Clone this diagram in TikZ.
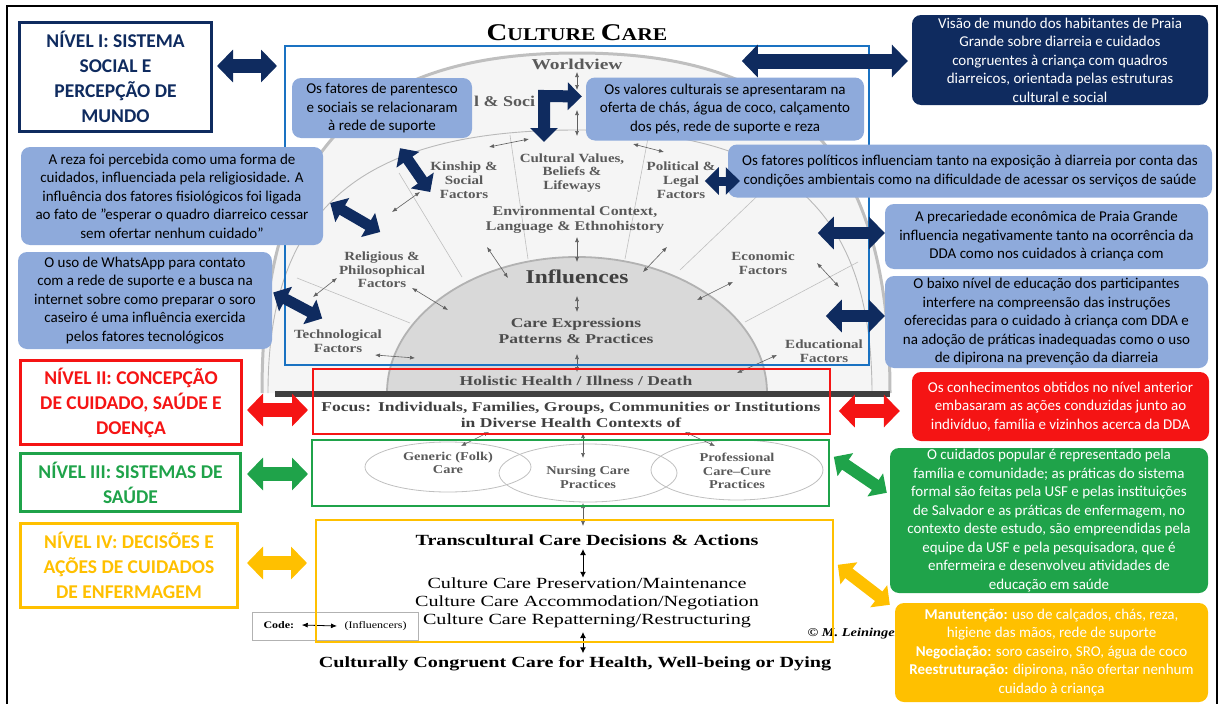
\documentclass[tikz,border=0pt]{standalone}
\usepackage{fontspec}
\setmainfont{Carlito}
\newfontfamily\sunfont[FakeStretch=1.2]{Liberation Serif}
\newfontfamily\sunwide[FakeStretch=1.3]{Liberation Serif}
\usetikzlibrary{arrows.meta}

\definecolor{navy}{HTML}{0F2B5F}
\definecolor{noteblue}{HTML}{8EAADB}
\definecolor{lvred}{HTML}{F51414}
\definecolor{lvgreen}{HTML}{1FA34A}
\definecolor{lvgold}{HTML}{FFC000}
\definecolor{frblue}{HTML}{1A72C2}
\definecolor{sungray}{HTML}{5A5A5A}

\newcommand{\lvfnt}{\fontsize{19.5}{25}\selectfont\bfseries}
\newcommand{\nfnt}{\fontsize{15}{18.5}\selectfont}
\newcommand{\sunsz}[2]{\sunfont\bfseries\fontsize{#1}{#2}\selectfont}
\newcommand{\sunwd}[2]{\sunwide\bfseries\fontsize{#1}{#2}\selectfont}

\tikzset{
  lvbox/.style={draw=#1, text=#1, line width=3pt, fill=white, align=center, font=\lvfnt, inner sep=0pt},
  note/.style={fill=noteblue, rounded corners=9pt, align=center, font=\nfnt, inner sep=0pt},
  fac/.style={text=sungray, align=center, inner sep=0pt},
  infl/.style={draw=gray!75!black, line width=0.6pt, {Latex[length=5pt,width=4pt]}-{Latex[length=5pt,width=4pt]}},
  inflk/.style={draw=black, line width=1pt, {Latex[length=6pt,width=6pt]}-{Latex[length=6pt,width=6pt]}},
  blk/.style={draw=#1, line width=14pt, {Triangle[length=16pt,width=32pt]}-{Triangle[length=16pt,width=32pt]}},
  blks/.style={draw=#1, line width=11pt, {Triangle[length=14pt,width=27pt]}-{Triangle[length=14pt,width=27pt]}},
  radial/.style={draw=gray!50, line width=0.6pt},
}

\begin{document}
\begin{tikzpicture}[x=1pt,y=-1pt]
\useasboundingbox (0,0) rectangle (1219,704);
\draw[line width=1.5pt] (7,704) -- (7,6) -- (1217,6) -- (1217,704);   %outer frame

% sunrise
\fill[gray!8] (262,393) .. controls (262,155) and (356,53) .. (577,53) .. controls (796,53) and (890,155) .. (890,393) -- cycle;
\draw[gray!50, line width=3pt] (262,393) .. controls (262,155) and (356,53) .. (577,53) .. controls (796,53) and (890,155) .. (890,393);   %outer arc
\draw[gray!55, line width=0.9pt] (268,393) .. controls (268,209) and (360,130) .. (577,130) .. controls (783,130) and (872,209) .. (872,393);   %ring
\fill[gray!30] (387,393) .. controls (387,318) and (472,257) .. (577,257) .. controls (682,257) and (767,318) .. (767,393) -- cycle;
\draw[gray!60, line width=1.8pt] (387,393) .. controls (387,318) and (472,257) .. (577,257) .. controls (682,257) and (767,318) .. (767,393);   %inner half
\draw[radial] (297,278) -- (410,323);
\draw[radial] (399,173) -- (462,277);
\draw[radial] (510,135) -- (528,259);
\draw[radial] (648,138) -- (625,259);
\draw[radial] (772,182) -- (680,270);
\draw[radial] (858,262) -- (745,322);
\fill[black!75] (275,391) rectangle (890,397);   %base

\node[font=\sunsz{18}{20}] (tit) at (577,33) {{\fontsize{24}{24}\selectfont C}ULTURE {\fontsize{24}{24}\selectfont C}ARE};
\node[fac, font=\sunwd{15}{16}] (wv) at (577,64) {Worldview};
\node[fac, anchor=west, font=\sunsz{15}{16}] (css) at (474,101) {l \& Soci};   %rest hidden by the notes
\node[fac, font=\sunsz{12.5}{14}] (kin) at (464,180) {Kinship \&\\Social\\Factors};
\node[fac, font=\sunsz{12.5}{13.5}] (cvb) at (572,173) {Cultural Values,\\Beliefs \&\\Lifeways};
\node[fac, font=\sunsz{12.5}{14}] (pol) at (681,180) {Political \&\\Legal\\Factors};
\node[fac, font=\sunsz{13.3}{15}] (env) at (575,220) {Environmental Context,\\Language \& Ethnohistory};
\node[fac, font=\sunsz{12.5}{13.5}] (rel) at (382,270) {Religious \&\\Philosophical\\Factors};
\node[fac, font=\sunsz{12.5}{14.5}] (tec) at (338,341) {Technological\\Factors};
\node[fac, font=\sunsz{12.5}{13.5}] (eco) at (763,263) {Economic\\Factors};
\node[fac, font=\sunsz{12.5}{14}] (edu) at (824,351) {Educational\\Factors};
\node[fac, text=black!75, font=\sunsz{19.5}{20}] (inf) at (577,277) {Influences};
\node[fac, text=black!70, font=\sunwd{13.5}{16}] (cep) at (576,331) {Care Expressions\\Patterns \& Practices};
\node[fac, text=black!70, font=\sunwd{13.5}{15}] (hol) at (576,381) {Holistic Health / Illness / Death};

% influencers
\draw[infl] (577,72) -- (577,90);
\draw[infl] (577,110) -- (577,136);
\draw[infl] (489,147) -- (529,139);
\draw[infl] (633,144) -- (664,152);
\draw[infl] (392,212) -- (420,192);
\draw[infl] (313,297) -- (337,278);
\draw[infl] (412,288) -- (448,310);
\draw[infl] (375,355) -- (415,358);
\draw[infl] (487,247) -- (508,278);
\draw[infl] (577,237) -- (577,262);
\draw[infl] (643,272) -- (667,247);
\draw[infl] (577,296) -- (577,312);
\draw[infl] (697,300) -- (733,282);
\draw[infl] (817,263) -- (839,287);
\draw[infl] (737,373) -- (777,355);
\draw[infl] (577,354) -- (577,372);

% lower part
\node[fac, text=black!75, font=\sunwd{13.5}{16}] (foc) at (571,415) {Focus:\hspace{7pt}Individuals, Families, Groups, Communities or Institutions\\in Diverse Health Contexts of};
\draw[gray!50, line width=0.8pt] (448,467) ellipse [x radius=83, y radius=25];
\draw[gray!50, line width=0.8pt] (588,473) ellipse [x radius=89, y radius=29];
\draw[gray!50, line width=0.8pt] (737,470) ellipse [x radius=86, y radius=30];
\node[fac, font=\sunsz{12}{13}] (gen) at (448,463) {Generic (Folk)\\Care};
\node[fac, font=\sunsz{12}{14}] (nur) at (588,477) {Nursing Care\\Practices};
\node[fac, font=\sunsz{12}{13.5}] (pro) at (737,471) {Professional\\Care–Cure\\Practices};
\draw[infl] (489,432) -- (461,446);
\draw[infl] (583,433) -- (583,458);
\draw[infl] (685,432) -- (715,446);
\draw[infl] (583,503) -- (583,526);
\node[font=\sunwd{15.5}{17}] (tcd) at (587,540) {Transcultural Care Decisions \& Actions};
\node[font=\sunwide\fontsize{15.5}{18}\selectfont, align=center, inner sep=0pt] (ccp) at (587,603) {Culture Care Preservation/Maintenance\\Culture Care Accommodation/Negotiation\\Culture Care Repatterning/Restructuring};
\node[font=\sunwd{15.5}{18}] (ccg) at (575,664) {Culturally Congruent Care for Health, Well-being or Dying};
\node[anchor=west, font=\sunfont\bfseries\itshape\fontsize{12}{12}\selectfont] (lei) at (804,634) {© M. Leininger};
\draw[inflk] (tcd.south -| 583,0) -- (ccp.north -| 583,0);
\draw[inflk] (583,632) -- (ccg.north -| 583,0);

% code legend
\node[draw=gray!60, line width=0.8pt, minimum width=166, minimum height=28, inner sep=0pt] (code) at (335,626) {};
\node[font=\sunsz{10}{11}, anchor=west] (codek) at (260,625) {Code:};
\node[font=\sunfont\fontsize{10}{11}\selectfont, anchor=west] (codei) at (341,626) {(Influencers)};
\draw[black, line width=0.8pt, {Latex[length=6pt,width=5pt]}-{Latex[length=6pt,width=5pt]}] ([xshift=4pt]codek.east) -- ([xshift=-4pt]codei.west);

% level frames
\draw[frblue, line width=1.6pt] (285,46) rectangle (869,365);
\draw[lvred, line width=1.6pt] (313,369) rectangle (830,434);
\draw[lvgreen, line width=1.6pt] (312,440) rectangle (829,506);
\draw[lvgold, line width=1.6pt] (316,520) rectangle (833,642);

% level boxes
\node[lvbox=navy, minimum width=192, minimum height=109] (lv1) at (115.5,77) {NÍVEL I: SISTEMA\\SOCIAL E\\PERCEPÇÃO DE\\MUNDO};
\node[lvbox=lvred, minimum width=221, minimum height=84] (lv2) at (131,402.5) {NÍVEL II: CONCEPÇÃO\\DE CUIDADO, SAÚDE E\\DOENÇA};
\node[lvbox=lvgreen, minimum width=220, minimum height=58] (lv3) at (130.5,482.5) {NÍVEL III: SISTEMAS DE\\SAÚDE};
\node[lvbox=lvgold, minimum width=217, minimum height=84] (lv4) at (129,565.5) {NÍVEL IV: DECISÕES E\\AÇÕES DE CUIDADOS\\DE ENFERMAGEM};

% notes
\node[note, minimum width=180, minimum height=60] (nPar) at (382,108) {Os fatores de parentesco\\e sociais se relacionaram\\à rede de suporte};
\node[note, minimum width=278, minimum height=63] (nVal) at (725,109) {Os valores culturais se apresentaram na\\oferta de chás, água de coco, calçamento\\dos pés, rede de suporte e reza};
\node[note, fill=navy, text=white, minimum width=296, minimum height=90] (nW) at (1060,60) {Visão de mundo dos habitantes de Praia\\Grande sobre diarreia e cuidados\\congruentes à criança com quadros\\diarreicos, orientada pelas estruturas\\cultural e social};
\node[note, minimum width=484, minimum height=53] (nPol) at (970,171) {Os fatores políticos influenciam tanto na exposição à diarreia por conta das\\condições ambientais como na dificuldade de acessar os serviços de saúde};
\node[note, minimum width=323, minimum height=65] (nEco) at (1046.5,236.5) {A precariedade econômica de Praia Grande\\influencia negativamente tanto na ocorrência da\\DDA como nos cuidados à criança com};
\node[note, minimum width=323, minimum height=92] (nEdu) at (1046.5,322) {O baixo nível de educação dos participantes\\interfere na compreensão das instruções\\oferecidas para o cuidado à criança com DDA e\\na adoção de práticas inadequadas como o uso\\de dipirona na prevenção da diarreia};
\node[note, minimum width=302, minimum height=98] (nRez) at (172,196) {A reza foi percebida como uma forma de\\cuidados, influenciada pela religiosidade. A\\influência dos fatores fisiológicos foi ligada\\ao fato de ”esperar o quadro diarreico cessar\\sem ofertar nenhum cuidado”};
\node[note, minimum width=254, minimum height=97] (nWha) at (145,300.5) {O uso de WhatsApp para contato\\com a rede de suporte e a busca na\\internet sobre como preparar o soro\\caseiro é uma influência exercida\\pelos fatores tecnológicos};
\node[note, fill=lvred, text=white, minimum width=297, minimum height=69] (nRed) at (1060.5,406.5) {Os conhecimentos obtidos no nível anterior\\embasaram as ações conduzidas junto ao\\indivíduo, família e vizinhos acerca da DDA};
\node[note, fill=lvgreen, text=white, minimum width=318, minimum height=145] (nGrn) at (1049,520.5) {O cuidados popular é representado pela\\família e comunidade; as práticas do sistema\\formal são feitas pela USF e pelas instituições\\de Salvador e as práticas de enfermagem, no\\contexto deste estudo, são empreendidas pela\\equipe da USF e pela pesquisadora, que é\\enfermeira e desenvolveu atividades de\\educação em saúde};
\node[note, fill=lvgold, text=white, minimum width=313, minimum height=99] (nYel) at (1051.5,652.5) {\textbf{Manutenção:} uso de calçados, chás, reza,\\higiene das mãos, rede de suporte\\\textbf{Negociação:} soro caseiro, SRO, água de coco\\\textbf{Reestruturação:} dipirona, não ofertar nenhum\\cuidado à criança};

% block arrows
\draw[blk=navy] ([xshift=4pt,yshift=11pt]lv1.east) -- ++(60,0);
\draw[blk=navy, line width=15pt] ([xshift=-4pt,yshift=-1pt]nW.west) -- ++(-166,0);
\coordinate (elb) at (544,142);
\draw[blks=navy, line width=12pt, line join=miter] (elb) -- (544,96) -- ([xshift=-4pt,yshift=12.5pt]nVal.west);
\draw[blks=navy] ([xshift=18pt,yshift=-10pt]nPar.south) -- ([yshift=-12pt]kin.west);
\draw[blks=navy] ([xshift=7pt,yshift=-7pt]nRez.east) -- ++(50,29);
\draw[blks=navy] ([xshift=1pt,yshift=8pt]nWha.east) -- ++(49,26);
\draw[blks=navy, line width=9pt] ([xshift=-23pt,yshift=-10pt]nPol.west) -- ++(35,0);
\draw[blk=navy, line width=12pt] ([yshift=3.5pt]nEco.west) -- ++(-67,0);
\draw[blk=navy, line width=12pt] ([yshift=6pt]nEdu.west) -- ++(-59,0);
\draw[blk=lvred] ([xshift=4pt,yshift=-7.5pt]lv2.east) -- ++(61,0);
\draw[blk=lvred] ([xshift=-12pt,yshift=-4.5pt]nRed.west) -- ++(-61,0);
\draw[blk=lvgreen] ([xshift=5pt,yshift=8.5pt]lv3.east) -- ++(61,0);
\draw[blks=lvgreen, line width=12pt] ([xshift=-3pt,yshift=-45pt]nGrn.north west) -- ++(-53,-36);
\draw[blk=lvgold] ([xshift=8pt,yshift=2.5pt]lv4.east) -- ++(60,0);
\draw[blks=lvgold, line width=12pt] ([xshift=-5pt,yshift=-2pt]nYel.north west) -- ++(-52,-40);
\end{tikzpicture}
\end{document}
